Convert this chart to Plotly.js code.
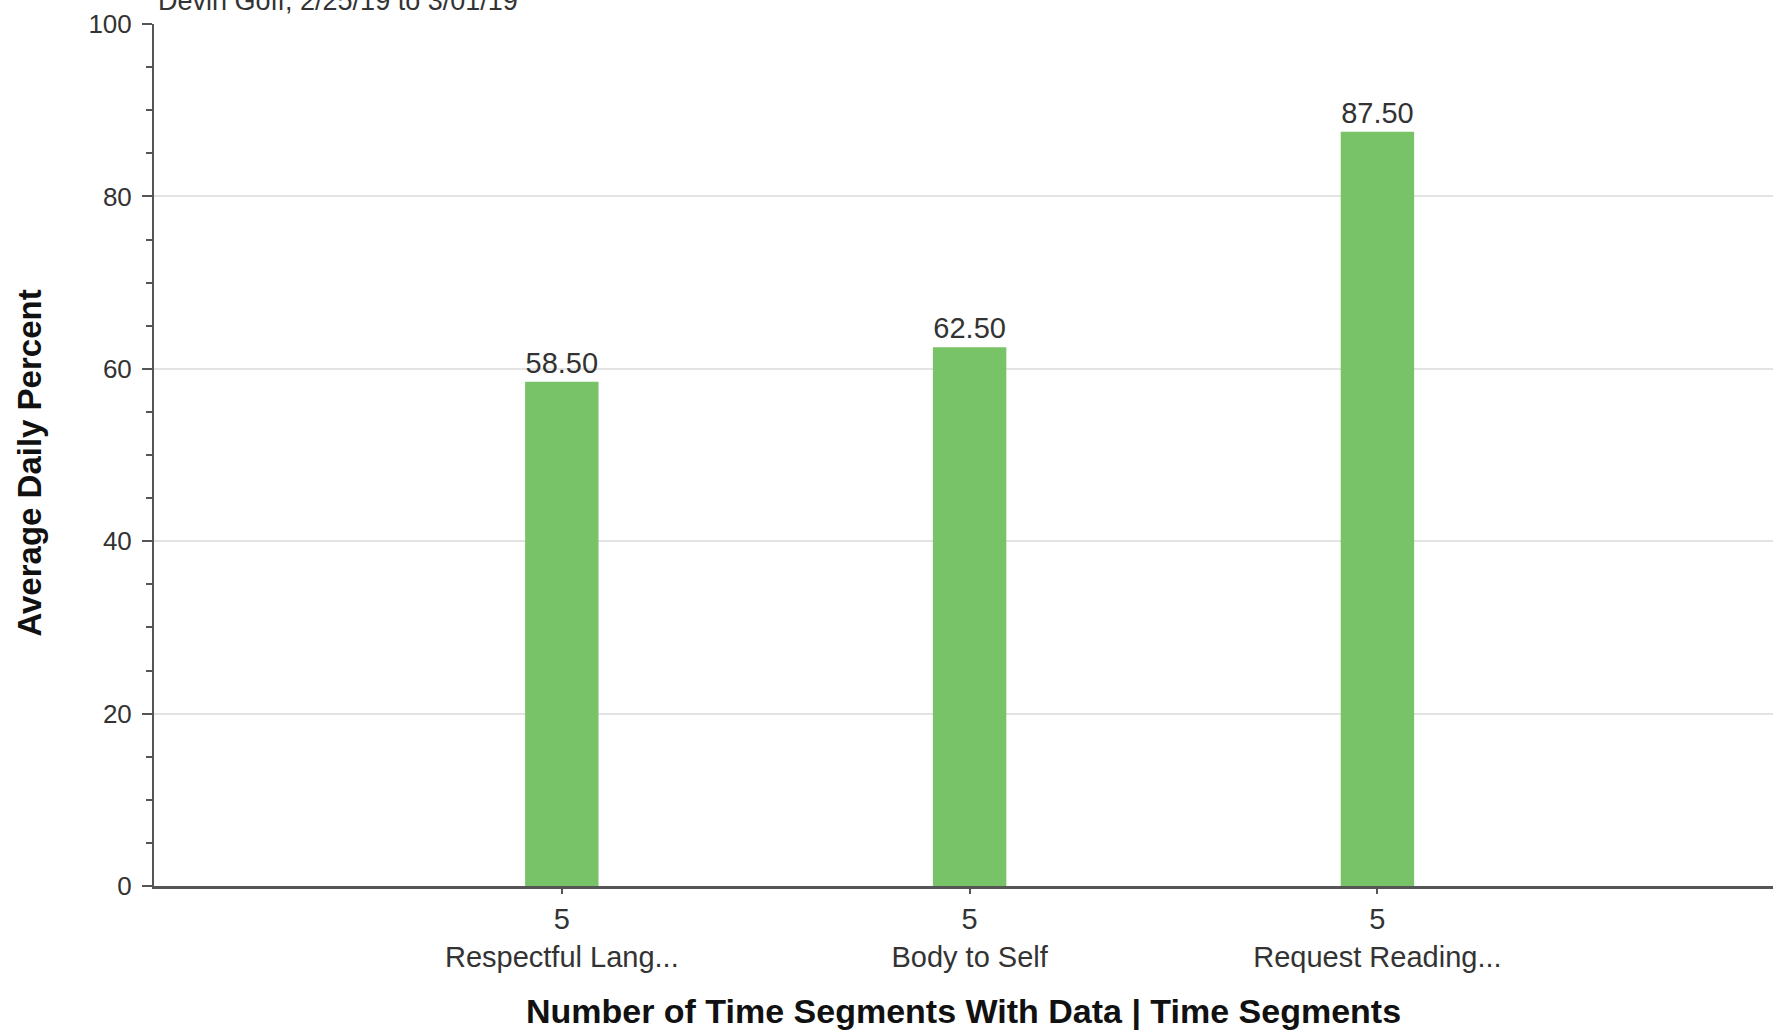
<!DOCTYPE html>
<html>
<head>
<meta charset="utf-8">
<script src="https://cdn.plot.ly/plotly-3.0.1.min.js"></script>
<style>
  html, body { margin: 0; padding: 0; background: #ffffff; }
  #chart { width: 1773px; height: 1031px; }
</style>
</head>
<body>
<div id="chart"></div>
<script>
// Behaviour targets and their average daily percent
const categories = ["Respectful Lang...", "Body to Self", "Request Reading..."];
const segmentsWithData = [5, 5, 5];
const averageDailyPercent = [58.5, 62.5, 87.5];
const yTickValues = [0, 20, 40, 60, 80, 100];
const subtitle = "Devin Goff, 2/25/19 to 3/01/19";

const FONT = '"Liberation Sans", Arial, sans-serif';

const trace = {
  type: 'bar',
  x: categories,
  y: averageDailyPercent,
  width: 0.18,
  marker: { color: '#78c267', line: { width: 0 } },
  text: averageDailyPercent.map(v => v.toFixed(2)),
  textposition: 'outside',
  cliponaxis: false,
  textfont: { family: FONT, size: 29, color: '#333333' },
  hoverinfo: 'x+y'
};

const layout = {
  width: 1773,
  height: 1031,
  margin: { l: 154, r: 0, t: 24, b: 145, pad: 0 },
  paper_bgcolor: '#ffffff',
  plot_bgcolor: '#ffffff',
  showlegend: false,
  font: { family: FONT, color: '#333333' },
  xaxis: {
    type: 'category',
    range: [-1, 2.97],
    tickmode: 'array',
    tickvals: categories,
    ticktext: categories.map((c, i) => segmentsWithData[i] + '<br>' + c),
    tickfont: { family: FONT, size: 29, color: '#333333' },
    ticks: 'outside',
    ticklen: 5,
    tickwidth: 2,
    tickcolor: '#555555',
    showline: true,
    linecolor: '#555555',
    linewidth: 3,
    showgrid: false,
    zeroline: false,
    title: {
      text: '<b>Number of Time Segments With Data | Time Segments</b>',
      font: { family: FONT, size: 34, color: '#111111' },
      standoff: 28
    }
  },
  yaxis: {
    range: [0, 100],
    tickmode: 'array',
    tickvals: yTickValues,
    tickfont: { family: FONT, size: 26, color: '#333333' },
    ticks: 'outside',
    ticklen: 10,
    tickwidth: 2,
    tickcolor: '#555555',
    ticklabelstandoff: 5,
    minor: { dtick: 5, ticks: 'outside', ticklen: 6, tickwidth: 2, tickcolor: '#555555', showgrid: false },
    showline: true,
    linecolor: '#555555',
    linewidth: 2,
    showgrid: true,
    gridcolor: '#e3e3e3',
    gridwidth: 2,
    zeroline: false,
    title: { text: '' }
  },
  annotations: [{
    // y-axis title, set slightly below the plot's middle
    text: '<b>Average Daily Percent</b>',
    xref: 'paper', yref: 'paper',
    x: 0, y: 0.49,
    xanchor: 'center', yanchor: 'middle',
    xshift: -124,
    textangle: -90,
    showarrow: false,
    font: { family: FONT, size: 33, color: '#111111' }
  }, {
    text: subtitle,
    xref: 'paper', yref: 'paper',
    x: 0, y: 1.027,
    xanchor: 'left', yanchor: 'middle',
    xshift: 2,
    showarrow: false,
    font: { family: FONT, size: 27, color: '#333333' }
  }]
};

Plotly.newPlot('chart', [trace], layout, { displayModeBar: false, staticPlot: true });
</script>
</body>
</html>
